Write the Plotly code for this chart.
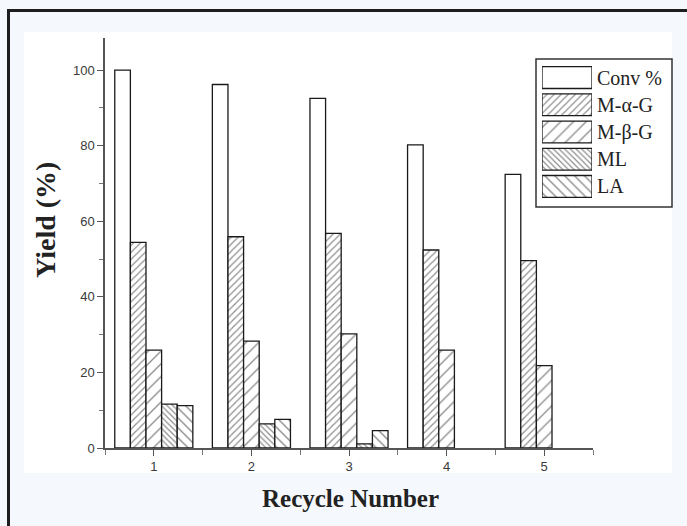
import plotly.graph_objects as go

# Recycling runs
cycles = [1, 2, 3, 4, 5]

# Series names and values (%)
series_names = ["Conv %", "M-α-G", "M-β-G", "ML", "LA"]
conv = [100, 96.2, 92.5, 80.2, 72.4]
m_alpha_g = [54.4, 55.9, 56.8, 52.4, 49.6]
m_beta_g = [25.9, 28.3, 30.2, 25.9, 21.8]
ml = [11.6, 6.4, 1.1, 0, 0]
la = [11.2, 7.6, 4.6, 0, 0]

y_ticks = [0, 20, 40, 60, 80, 100]

series_values = [conv, m_alpha_g, m_beta_g, ml, la]

# Fill styles for each series: (pattern shape, pattern spacing, solidity)
patterns = [("", 8, 0.1), ("/", 5, 0.24), ("/", 9, 0.15), ("\\", 4, 0.3), ("\\", 7, 0.2)]

W, H = 687, 526
L, R, T, B = 105, 94, 38, 78

fig = go.Figure()

for name, vals, (shape, size, sol) in zip(series_names, series_values, patterns):
    fig.add_trace(go.Bar(
        x=cycles, y=vals, name=name,
        marker=dict(
            color="white",
            line=dict(color="#1a1a1a", width=[1.3 if v > 0 else 0 for v in vals]),
            pattern=dict(shape=shape, size=size, solidity=sol,
                         fgcolor="#1a1a1a", bgcolor="white"),
        ),
        showlegend=False, xaxis="x", yaxis="y",
    ))

# Key: one wide swatch per series on an inset axis
for name, (shape, size, sol) in zip(series_names, patterns):
    fig.add_trace(go.Bar(
        x=[1], y=[name], orientation="h",
        marker=dict(
            color="white",
            line=dict(color="#1a1a1a", width=1.3),
            pattern=dict(shape=shape, size=size, solidity=sol,
                         fgcolor="#1a1a1a", bgcolor="white"),
        ),
        showlegend=False, xaxis="x2", yaxis="y2", hoverinfo="skip",
    ))

pw = W - L - R
ph = H - T - B


def px_x(p):
    return (p - L) / pw


def px_y(p):
    return (H - B - p) / ph


tick_font = dict(family="Liberation Sans Narrow, Arial Narrow, Arial", size=13, color="#3a3a3a")
serif = "Liberation Serif, Times New Roman"

fig.update_layout(
    width=W, height=H,
    margin=dict(l=L, r=R, t=T, b=B),
    paper_bgcolor="#f5f8fc",
    plot_bgcolor="rgba(0,0,0,0)",
    barmode="group", bargap=0.2, bargroupgap=0,
    xaxis=dict(
        range=[0.5, 5.5], tickvals=cycles, ticks="outside", ticklen=6,
        tickwidth=1.3, tickcolor="#555", showline=True, linecolor="#555",
        linewidth=1.5, showgrid=False, zeroline=False, tickfont=tick_font,
        minor=dict(tickvals=[0.5, 1.5, 2.5, 3.5, 4.5, 5.5], ticks="outside",
                   ticklen=5, tickwidth=1.2, tickcolor="#777"),
    ),
    yaxis=dict(
        range=[0, 108.5], tickvals=y_ticks, ticks="outside", ticklen=6,
        tickwidth=1.3, tickcolor="#555", showline=True, linecolor="#555",
        linewidth=1.5, showgrid=False, zeroline=False, tickfont=tick_font,
        minor=dict(tickvals=[10, 30, 50, 70, 90], ticks="outside",
                   ticklen=4, tickwidth=1.2, tickcolor="#777"),
    ),
    xaxis2=dict(
        domain=[px_x(542), px_x(592)], range=[0, 1], anchor="y2",
        visible=False, fixedrange=True,
    ),
    yaxis2=dict(
        domain=[px_y(200), px_y(64)], anchor="x2", side="right",
        categoryorder="array", categoryarray=series_names[::-1],
        showline=False, showgrid=False, zeroline=False, ticks="",
        ticklabelstandoff=4,
        tickfont=dict(family=serif, size=20, color="#222"),
    ),
    shapes=[
        # light inner panel
        dict(type="rect", xref="paper", yref="paper", layer="below",
             x0=px_x(24), x1=px_x(672), y0=px_y(473), y1=px_y(32),
             fillcolor="white", line=dict(width=0)),
        # key box
        dict(type="rect", xref="paper", yref="paper", layer="below",
             x0=px_x(536), x1=px_x(672), y0=px_y(207), y1=px_y(59),
             fillcolor="white", line=dict(color="#333", width=1.5)),
        # outer frame
        dict(type="line", xref="paper", yref="paper",
             x0=px_x(8.5), x1=px_x(8.5), y0=px_y(10), y1=px_y(530),
             line=dict(color="#1e1e1e", width=3)),
        dict(type="line", xref="paper", yref="paper",
             x0=px_x(7), x1=px_x(690), y0=px_y(10.5), y1=px_y(10.5),
             line=dict(color="#1e1e1e", width=3)),
    ],
    annotations=[
        dict(text="<b>Yield (%)</b>", xref="paper", yref="paper",
             x=px_x(46), y=px_y(220), textangle=-90, showarrow=False,
             xanchor="center", yanchor="middle",
             font=dict(family=serif, size=28, color="#222")),
        dict(text="<b>Recycle Number</b>", xref="paper", yref="paper",
             x=px_x(350), y=px_y(498), showarrow=False,
             xanchor="center", yanchor="middle",
             font=dict(family=serif, size=25, color="#222")),
    ],
)

fig.write_html("out.html")
